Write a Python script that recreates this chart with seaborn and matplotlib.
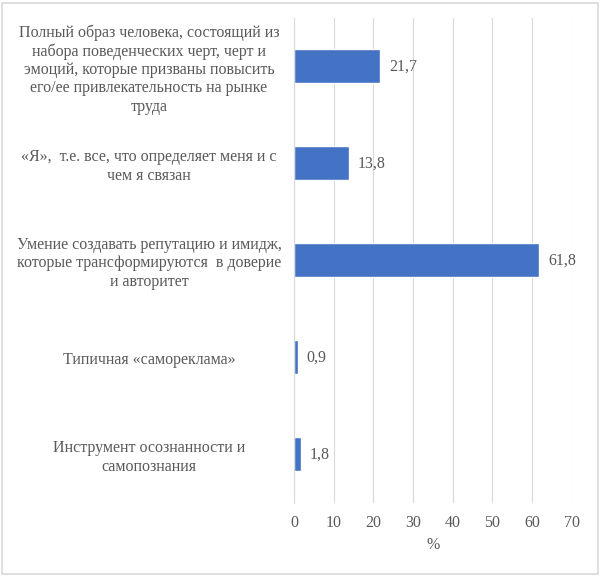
import matplotlib
matplotlib.use("Agg")
import matplotlib.pyplot as plt
import matplotlib.transforms as mtransforms
import seaborn as sns
import pandas as pd
from matplotlib.patches import Rectangle

categories = [
    "Полный образ человека, состоящий из\nнабора поведенческих черт, черт и\nэмоций, которые призваны повысить\nего/ее привлекательность на рынке\nтруда",
    "«Я»,  т.е. все, что определяет меня и с\nчем я связан",
    "Умение создавать репутацию и имидж,\nкоторые трансформируются  в доверие\nи авторитет",
    "Типичная «самореклама»",
    "Инструмент осознанности и\nсамопознания",
]
values = [21.7, 13.8, 61.8, 0.9, 1.8]
value_labels = ["21,7", "13,8", "61,8", "0,9", "1,8"]
xticks = [0, 10, 20, 30, 40, 50, 60, 70]
xlabel = "%"

sns.set_theme(style="white")
plt.rcParams['font.family'] = ['Liberation Serif', 'DejaVu Serif']
text_color = "#595959"
fs = 11.5

df = pd.DataFrame({"cat": categories, "val": values})

fig = plt.figure(figsize=(6, 5.76), dpi=100)
ax = fig.add_axes([0.49, 0.127, 0.463, 0.842])
sns.barplot(data=df, y="cat", x="val", orient="h", color="#4472C4",
            saturation=1, width=0.35, ax=ax)

ax.set_xlim(0, 70)
ax.set_xticks(xticks)
ax.set_xticklabels([str(t) for t in xticks], fontsize=fs, color=text_color)
ax.set_xlabel(xlabel, fontsize=fs, color=text_color, labelpad=4)
ax.set_ylabel("")
ax.set_yticks(range(len(categories)))
ax.set_yticklabels([])
ax.tick_params(axis="y", length=0)
ax.tick_params(axis="x", length=0, pad=9)

lab_tr = mtransforms.offset_copy(ax.get_yaxis_transform(), fig=fig, x=0, y=-3, units="dots")
for i, c in enumerate(categories):
    ax.text(-0.522, i, c, transform=lab_tr, ha="center",
            va="center", multialignment="center", fontsize=fs,
            color=text_color, linespacing=1.2)

ax.grid(axis="x", color="#D9D9D9", linewidth=0.8)
ax.grid(axis="y", visible=False)
ax.set_axisbelow(True)
for s in ["top", "right", "bottom"]:
    ax.spines[s].set_visible(False)
ax.spines["left"].set_color("#D9D9D9")
ax.spines["left"].set_linewidth(0.8)

for i, (v, t) in enumerate(zip(values, value_labels)):
    ax.text(v + 2.2, i, t, va="center", ha="left", fontsize=fs, color=text_color)

fig.patches.append(Rectangle((0.004, 0.004), 0.992, 0.99, transform=fig.transFigure,
                             fill=False, edgecolor="#D9D9D9", linewidth=1.2))

fig.savefig("out.png", dpi=100, facecolor="white")
